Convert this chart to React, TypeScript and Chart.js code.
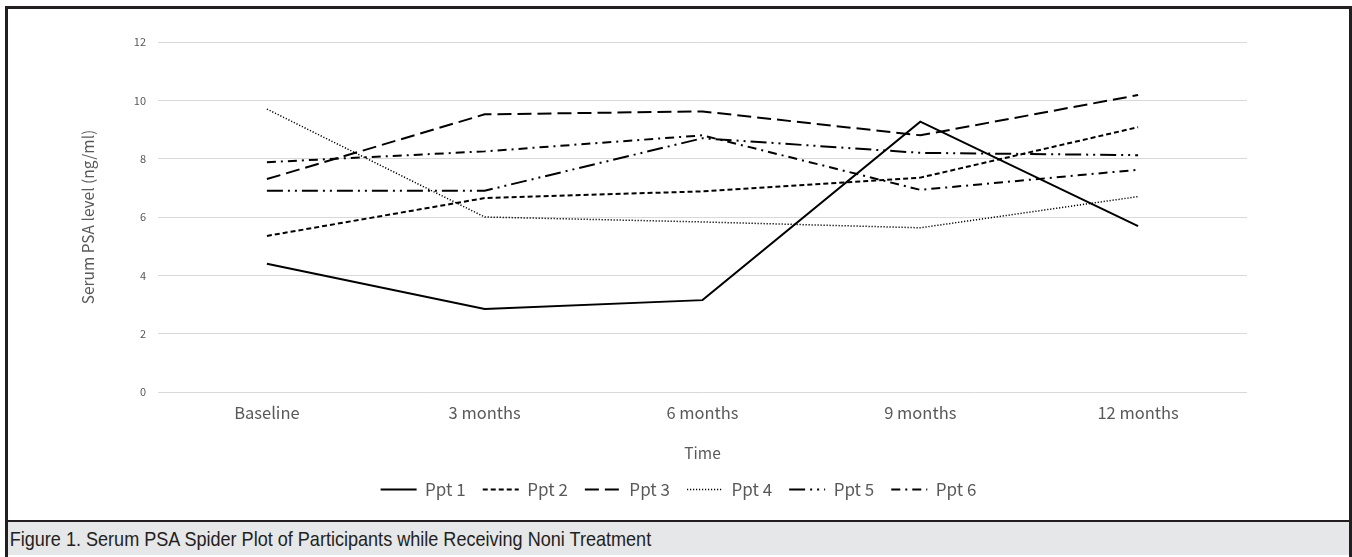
import React, { useEffect, useRef } from "react";
import { Chart, registerables } from "chart.js";

Chart.register(...registerables);

const categories = ["Baseline", "3 months", "6 months", "9 months", "12 months"];
const seriesNames = ["Ppt 1", "Ppt 2", "Ppt 3", "Ppt 4", "Ppt 5", "Ppt 6"];
const ppt1 = [4.4, 2.85, 3.15, 9.27, 5.69];
const ppt2 = [5.35, 6.65, 6.88, 7.35, 9.08];
const ppt3 = [7.3, 9.52, 9.62, 8.8, 10.18];
const ppt4 = [9.7, 6.0, 5.83, 5.63, 6.7];
const ppt5 = [6.9, 6.9, 8.7, 8.2, 8.12];
const ppt6 = [7.88, 8.25, 8.8, 6.93, 7.62];
const yMin = 0;
const yMax = 12;
const yStep = 2;
const xTitle = "Time";
const yTitle = "Serum PSA level (ng/ml)";
const caption = "Figure 1. Serum PSA Spider Plot of Participants while Receiving Noni Treatment";

const seriesValues = [ppt1, ppt2, ppt3, ppt4, ppt5, ppt6];
const seriesDash: number[][] = [
  [],
  [5, 3],
  [14, 6],
  [1.2, 1.8],
  [16, 5, 2, 5, 2, 5],
  [9, 5, 2, 5],
];
const seriesWidth = [2, 2, 2, 1.5, 2, 2];

const FONT = "'Noto Sans CJK JP', 'Noto Sans', sans-serif";
const TEXT = "#595959";

export default function App() {
  const canvasRef = useRef<HTMLCanvasElement | null>(null);

  useEffect(() => {
    if (!canvasRef.current) return;
    const chart = new Chart(canvasRef.current, {
      type: "line",
      data: {
        labels: categories,
        datasets: seriesNames.map((name, i) => ({
          label: name,
          data: seriesValues[i],
          borderColor: "#000000",
          backgroundColor: "#000000",
          borderWidth: seriesWidth[i],
          borderDash: seriesDash[i],
          pointRadius: 0,
          pointHoverRadius: 0,
          pointStyle: "line",
          tension: 0,
          fill: false,
        })),
      },
      options: {
        animation: false,
        responsive: true,
        maintainAspectRatio: false,
        layout: { padding: { top: 33, bottom: 12, left: 0, right: 0 } },
        plugins: {
          tooltip: { enabled: false },
          legend: {
            position: "bottom",
            labels: {
              usePointStyle: true,
              pointStyle: "line",
              pointStyleWidth: 36,
              color: TEXT,
              padding: 17,
              font: { family: FONT, size: 17 },
              generateLabels: (c: any) => {
                const items = Chart.defaults.plugins.legend.labels.generateLabels(c);
                return items.map((it: any, i: number) => ({
                  ...it,
                  pointStyle: "line",
                  lineDash: seriesDash[i],
                  lineWidth: seriesWidth[i],
                  strokeStyle: "#000000",
                  fillStyle: "#000000",
                  fontColor: TEXT,
                }));
              },
            },
          },
        },
        scales: {
          x: {
            offset: true,
            grid: { display: false, drawTicks: false, offset: true },
            border: { display: false },
            ticks: { color: TEXT, padding: 11, font: { family: FONT, size: 16.5 } },
            title: {
              display: true,
              text: xTitle,
              color: TEXT,
              font: { family: FONT, size: 15.5 },
              padding: { top: 0, bottom: 2 },
            },
            afterFit: (s: any) => {
              s.height = 72;
            },
          },
          y: {
            min: yMin,
            max: yMax,
            grid: { color: "#d9d9d9", lineWidth: 1, drawTicks: false },
            border: { display: false },
            ticks: {
              stepSize: yStep,
              color: TEXT,
              padding: 12,
              font: { family: FONT, size: 11 },
            },
            title: {
              display: true,
              text: yTitle,
              color: TEXT,
              font: { family: FONT, size: 15.5 },
              padding: { top: 71, bottom: 0 },
            },
            afterFit: (s: any) => {
              s.width = 150;
            },
          },
          y2: {
            position: "right",
            display: true,
            grid: { display: false, drawTicks: false },
            border: { display: false },
            ticks: { display: false },
            afterFit: (s: any) => {
              s.width = 102;
            },
          },
        },
      },
    } as any);
    return () => chart.destroy();
  }, []);

  return (
    <div
      style={{
        position: "fixed",
        left: 5,
        top: 6,
        width: 1341,
        height: 551,
        borderTop: "3px solid #231f20",
        borderLeft: "3px solid #231f20",
        borderRight: "3px solid #231f20",
        background: "#ffffff",
        overflow: "hidden",
      }}
    >
      <div style={{ position: "relative", width: 1341, height: 511 }}>
        <canvas ref={canvasRef} />
      </div>
      <div
        style={{
          height: 35,
          borderTop: "2px solid #231f20",
          background: "#e6e7e9",
          boxSizing: "border-box",
          overflow: "hidden",
          whiteSpace: "nowrap",
        }}
      >
        <div
          style={{
            fontFamily: "'Liberation Sans', Arial, sans-serif",
            fontSize: 21,
            color: "#231f20",
            lineHeight: "33px",
            paddingLeft: 2,
            transform: "scaleX(0.86)",
            transformOrigin: "left center",
          }}
        >
          {caption}
        </div>
      </div>
    </div>
  );
}
